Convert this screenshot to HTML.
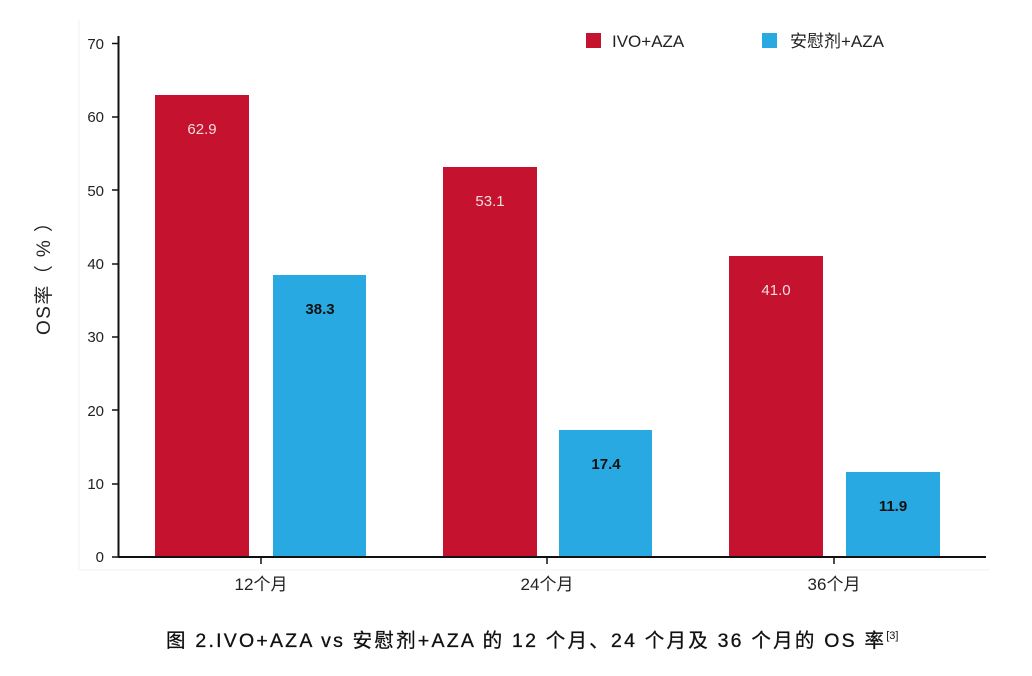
<!DOCTYPE html>
<html><head><meta charset="utf-8"><style>
body{margin:0;background:#fff;}
svg{display:block;font-family:"Liberation Sans","Noto Sans CJK SC",sans-serif;}
</style></head><body>
<svg width="1032" height="676" viewBox="0 0 1032 676" xmlns="http://www.w3.org/2000/svg">
<rect width="1032" height="676" fill="#fff"/>
<line x1="79" y1="20" x2="79" y2="570" stroke="#f2f2f2" stroke-width="1"/>
<line x1="79" y1="570" x2="990" y2="570" stroke="#f2f2f2" stroke-width="1"/>
<rect x="155" y="95" width="94" height="462" fill="#c4122f"/>
<rect x="273" y="275" width="93" height="282" fill="#29a9e1"/>
<rect x="443" y="167" width="94" height="390" fill="#c4122f"/>
<rect x="559" y="430" width="93" height="127" fill="#29a9e1"/>
<rect x="729" y="256" width="94" height="301" fill="#c4122f"/>
<rect x="846" y="472" width="94" height="85" fill="#29a9e1"/>
<g font-size="15" text-anchor="middle" font-weight="bold">
<text x="202" y="134" fill="#f3dede" font-weight="normal">62.9</text>
<text x="320" y="314" fill="#111">38.3</text>
<text x="490" y="206" fill="#f3dede" font-weight="normal">53.1</text>
<text x="606" y="469" fill="#111">17.4</text>
<text x="776" y="295" fill="#f3dede" font-weight="normal">41.0</text>
<text x="893" y="511" fill="#111">11.9</text>
</g>
<line x1="118.5" y1="36" x2="118.5" y2="557" stroke="#111" stroke-width="2"/>
<line x1="118" y1="557" x2="986" y2="557" stroke="#111" stroke-width="2"/>
<g stroke="#111" stroke-width="1.5">
<line x1="112" y1="43.5" x2="118" y2="43.5"/><line x1="112" y1="117" x2="118" y2="117"/>
<line x1="112" y1="190" x2="118" y2="190"/><line x1="112" y1="264" x2="118" y2="264"/>
<line x1="112" y1="337" x2="118" y2="337"/><line x1="112" y1="410" x2="118" y2="410"/>
<line x1="112" y1="484" x2="118" y2="484"/><line x1="112" y1="557" x2="118" y2="557"/>
<line x1="261" y1="557" x2="261" y2="564"/><line x1="547" y1="557" x2="547" y2="564"/>
<line x1="834" y1="557" x2="834" y2="564"/>
</g>
<g font-size="15" fill="#222" text-anchor="end">
<text x="104" y="49">70</text><text x="104" y="122">60</text><text x="104" y="196">50</text>
<text x="104" y="269">40</text><text x="104" y="342">30</text><text x="104" y="416">20</text>
<text x="104" y="489">10</text><text x="104" y="562">0</text>
</g>
<g font-size="17" fill="#222" text-anchor="middle">
<text x="261" y="590">12个月</text><text x="547" y="590">24个月</text><text x="834" y="590">36个月</text>
</g>
<text transform="translate(50,335) rotate(-90)" font-size="19" fill="#222" textLength="122" lengthAdjust="spacing">OS率（ % ）</text>
<rect x="586" y="33" width="15" height="15" fill="#c4122f"/>
<text x="612" y="47" font-size="17" fill="#222">IVO+AZA</text>
<rect x="762" y="33" width="15" height="15" fill="#29a9e1"/>
<text x="790" y="47" font-size="17" fill="#222">安慰剂+AZA</text>
<text x="166" y="647" font-size="19.5" fill="#111" stroke="#111" stroke-width="0.3"><tspan textLength="718" lengthAdjust="spacing">图 2.IVO+AZA vs 安慰剂+AZA 的 12 个月、24 个月及 36 个月的 OS 率</tspan><tspan font-size="11" dy="-8" stroke="none">[3]</tspan></text>
</svg>
</body></html>
